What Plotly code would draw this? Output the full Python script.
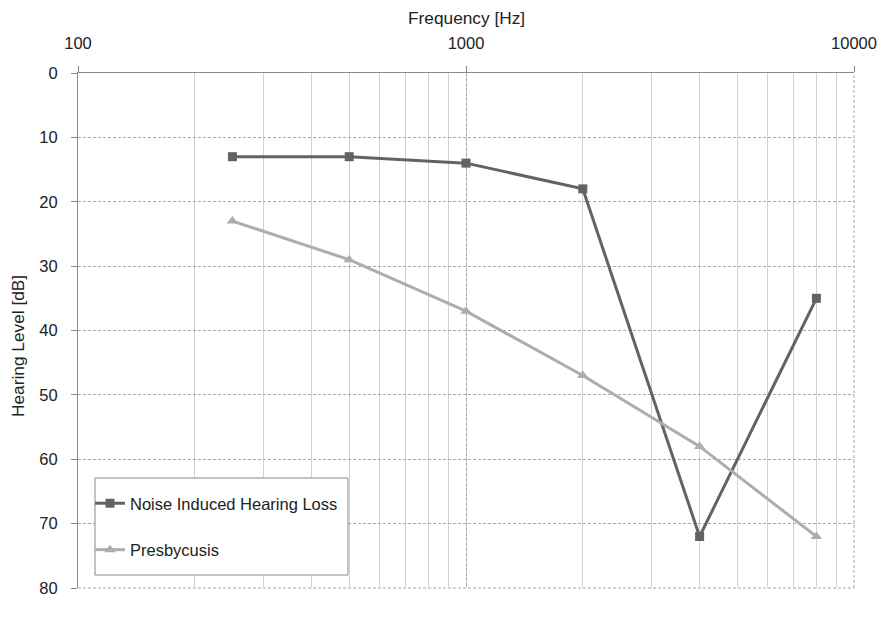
import plotly.graph_objects as go

freq = [250, 500, 1000, 2000, 4000, 8000]
noise_db = [13, 13, 14, 18, 72, 35]
presby_db = [23, 29, 37, 47, 58, 72]
x_ticks = [100, 1000, 10000]
y_ticks = [0, 10, 20, 30, 40, 50, 60, 70, 80]

font = "Liberation Sans"
fs = 16.5
major_grid = "#a8a8a8"
minor_grid = "#d2d2d2"
axis_col = "#888888"

# page body has an 8px margin: plot area on screen = 78..854 x 73..588
L, T = 70, 65
PW, PH = 776, 515

fig = go.Figure()
fig.add_trace(go.Scatter(
    x=freq, y=noise_db, mode="lines+markers", name="Noise Induced Hearing Loss",
    line=dict(color="#636363", width=3),
    marker=dict(symbol="square", size=9, color="#636363"),
    legendgroup="a",
))
fig.add_trace(go.Scatter(
    x=freq, y=presby_db, mode="lines+markers", name="Presbycusis",
    line=dict(color="#adadad", width=3),
    marker=dict(symbol="triangle-up", size=10, color="#adadad"),
    legendgroup="b",
))

def px(xs):
    return (xs - 78) / PW

def py(ys):
    return (588 - ys) / PH

# Legend frame
fig.add_shape(type="rect", xref="paper", yref="paper",
              x0=px(95), x1=px(348), y0=py(575), y1=py(478),
              line=dict(color=axis_col, width=1), fillcolor="white", layer="above")
# dashed right / bottom borders (major gridlines at range edges)
fig.add_shape(type="line", xref="paper", yref="paper", x0=1, x1=1, y0=0, y1=1,
              line=dict(color=major_grid, width=1, dash="3px,2px"), layer="below")
fig.add_shape(type="line", xref="paper", yref="paper", x0=0, x1=1, y0=0, y1=0,
              line=dict(color=major_grid, width=1, dash="3px,2px"), layer="below")

fig.add_annotation(text="Frequency [Hz]", xref="paper", yref="paper", x=0.5, y=1,
                   xanchor="center", yanchor="middle", yshift=55, showarrow=False,
                   font=dict(size=17.3, family=font, color="#222222"))
fig.add_annotation(text="Hearing Level [dB]", xref="paper", yref="paper", x=0, y=py(346),
                   xanchor="center", yanchor="middle", xshift=-60, textangle=-90,
                   showarrow=False, font=dict(size=17.3, family=font, color="#222222"))

fig.update_layout(
    width=885, height=634,
    margin=dict(l=L, r=885 - L - PW, t=T, b=634 - T - PH),
    paper_bgcolor="white", plot_bgcolor="white",
    font=dict(family=font, size=fs, color="#222222"),
    showlegend=True,
    legend=dict(
        x=px(90), y=py(486), xanchor="left", yanchor="top",
        bgcolor="rgba(0,0,0,0)", borderwidth=0,
        font=dict(family=font, size=fs, color="#222222"),
        tracegroupgap=22,
        traceorder="grouped",
    ),
    xaxis=dict(
        type="log", range=[2, 4], side="top", automargin=False,
        tickvals=x_ticks, ticktext=[str(v) for v in x_ticks],
        ticks="outside", ticklen=6, tickcolor=axis_col,
        ticklabelstandoff=10,
        showline=True, linecolor=axis_col, linewidth=1,
        showgrid=True, gridcolor=major_grid, gridwidth=1, griddash="3px,2px",
        minor=dict(dtick="D1", showgrid=True, gridcolor=minor_grid, gridwidth=1.3,
                   griddash="solid", ticks=""),
        zeroline=False,
        tickfont=dict(size=fs),
    ),
    yaxis=dict(
        range=[80, 0], tickvals=y_ticks, automargin=False,
        ticks="outside", ticklen=6, tickcolor=axis_col,
        ticklabelstandoff=10,
        showline=True, linecolor=axis_col, linewidth=1,
        showgrid=True, gridcolor=major_grid, gridwidth=1, griddash="3px,2px",
        zeroline=False,
        tickfont=dict(size=fs),
    ),
)

fig.write_html("out.html")
